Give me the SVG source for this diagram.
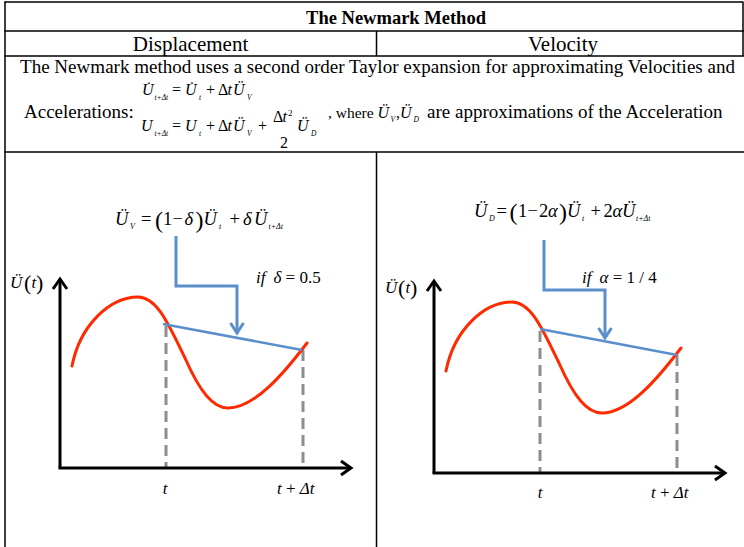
<svg xmlns="http://www.w3.org/2000/svg" width="744" height="547" viewBox="0 0 744 547">
<style>
  .tbl { stroke:#000; stroke-width:1.5; fill:none; }
  .txt { font-family:"Liberation Serif","Times New Roman",serif; fill:#000; }
  .it { font-style:italic; }
  .up { font-style:normal; }
  .sub { font-size:7.5px; }
  .par { font-style:normal; font-size:24px; }
  .axis { stroke:#000; stroke-width:3; fill:none; }
  .curve { stroke:#FF2A00; stroke-width:3; fill:none; stroke-linecap:round; }
  .dash { stroke:#8E8E8E; stroke-width:3; fill:none; stroke-dasharray:11 6; }
  .blue { stroke:#5B8FCB; stroke-width:3; fill:none; }
  .bline { stroke:#5B8FCB; stroke-width:2.5; fill:none; }
</style>
<defs>
  <marker id="axArrow" markerUnits="userSpaceOnUse" viewBox="-13 -10 16 20" markerWidth="16" markerHeight="20" refX="0" refY="0" orient="auto">
    <path d="M-10,-7 L0,0 L-10,7" stroke="#000" stroke-width="3" fill="none"/>
  </marker>
  <marker id="blArrow" markerUnits="userSpaceOnUse" viewBox="-13 -10 16 20" markerWidth="16" markerHeight="20" refX="0" refY="0" orient="auto">
    <path d="M-10,-6.5 L0,0 L-10,6.5" stroke="#5B8FCB" stroke-width="3" fill="none"/>
  </marker>
</defs>
<rect width="744" height="547" fill="#fff"/>

<g id="table">
  <line class="tbl" x1="4.5" y1="2" x2="743" y2="2"/>
  <line class="tbl" x1="5" y1="1.5" x2="5" y2="547"/>
  <line class="tbl" x1="743" y1="1.5" x2="743" y2="56"/>
  <line class="tbl" x1="4.5" y1="31" x2="744" y2="31"/>
  <line class="tbl" x1="4.5" y1="56" x2="744" y2="56"/>
  <line class="tbl" x1="4.5" y1="152" x2="744" y2="152"/>
  <line class="tbl" x1="376.5" y1="31" x2="376.5" y2="56"/>
  <line class="tbl" x1="376.5" y1="152" x2="376.5" y2="547"/>
</g>

<g id="header">
  <text class="txt" x="396" y="24" font-size="18.5" font-weight="bold" text-anchor="middle">The Newmark Method</text>
  <text class="txt" x="190.5" y="51" font-size="21" text-anchor="middle">Displacement</text>
  <text class="txt" x="563" y="51" font-size="21" text-anchor="middle">Velocity</text>
</g>

<g id="intro">
  <text class="txt" x="20" y="73" font-size="19" textLength="715" lengthAdjust="spacingAndGlyphs">The Newmark method uses a second order Taylor expansion for approximating Velocities and</text>
  <text class="txt" x="24" y="118" font-size="19">Accelerations:</text>
  <text class="txt it" font-size="16" y="95"><tspan x="142">U&#x307;</tspan><tspan class="sub" x="154.5" y="100">t+Δt</tspan><tspan class="up" x="172" y="95">=</tspan><tspan x="185">U&#x307;</tspan><tspan class="sub" x="199" y="100">t</tspan><tspan class="up" x="206" y="95">+</tspan><tspan class="up" x="218">Δ</tspan><tspan x="227.5">t</tspan><tspan x="233">Ü</tspan><tspan class="sub" x="247" y="100">V</tspan></text>
  <text class="txt it" font-size="16" y="131"><tspan x="141">U</tspan><tspan class="sub" x="154.5" y="136">t+Δt</tspan><tspan class="up" x="172" y="131">=</tspan><tspan x="185">U</tspan><tspan class="sub" x="199" y="136">t</tspan><tspan class="up" x="206" y="131">+</tspan><tspan class="up" x="218">Δ</tspan><tspan x="227.5">t</tspan><tspan x="233">Ü</tspan><tspan class="sub" x="247" y="136">V</tspan><tspan class="up" x="258" y="131">+</tspan></text>
  <text class="txt it" font-size="16" y="122"><tspan class="up" x="273">Δ</tspan><tspan x="282.5">t</tspan><tspan class="up" x="288" y="116" font-size="9">2</tspan></text>
  <text class="txt" x="280" y="148" font-size="16">2</text>
  <text class="txt it" font-size="16" y="131"><tspan x="297">Ü</tspan><tspan class="sub" x="311" y="136">D</tspan></text>
  <text class="txt" x="328" y="118" font-size="15.5">, where</text>
  <text class="txt it" font-size="16" y="118"><tspan x="377.5">Ü</tspan><tspan class="sub" x="390.5" y="122">V</tspan><tspan class="up" x="396" y="118">,</tspan><tspan x="400">Ü</tspan><tspan class="sub" x="413.5" y="122">D</tspan></text>
  <text class="txt" x="427" y="118" font-size="19">are approximations of the Acceleration</text>
</g>

<g id="graph-left">
  <path class="dash" d="M166,326 V468"/>
  <path class="dash" d="M303,350 V468"/>
  <path class="axis" d="M60,468 V279" marker-end="url(#axArrow)"/>
  <path class="axis" d="M58.5,468 H351" marker-end="url(#axArrow)"/>
  <path class="curve" d="M72,366 C80,325 110,297 138,297 C158,297 170,328 185,358 C200,392 213,408 228,408 C255,408 285,372 307,343"/>
  <path class="bline" d="M163,324 L302,350"/>
  <path class="blue" d="M176,236 V286 H237 V333" marker-end="url(#blArrow)"/>
  <text class="txt it" font-size="18.5" y="225"><tspan x="115">Ü</tspan><tspan x="130" y="229" font-size="8">V</tspan><tspan class="up" x="141" y="225">=</tspan><tspan class="par" x="155" y="228">(</tspan><tspan class="up" x="163" y="225">1</tspan><tspan class="up" x="172.5">−</tspan><tspan x="184.5">δ</tspan><tspan class="par" x="195.5" y="228">)</tspan><tspan x="203.5" y="225">Ü</tspan><tspan x="219" y="229" font-size="8">t</tspan><tspan class="up" x="229.5" y="225">+</tspan><tspan x="243">δ</tspan><tspan x="254">Ü</tspan><tspan x="268.5" y="229" font-size="8">t+Δt</tspan></text>
  <text class="txt it" x="256" y="283" font-size="17">if<tspan dx="8">δ</tspan><tspan class="up"> = 0.5</tspan></text>
  <text class="txt it" font-size="17" y="288"><tspan x="10">Ü</tspan><tspan class="up" x="24" y="290" font-size="22">(</tspan><tspan x="31.5" y="288">t</tspan><tspan class="up" x="36" y="290" font-size="22">)</tspan></text>
  <text class="txt it" x="165" y="494" font-size="17" text-anchor="middle">t</text>
  <text class="txt it" x="277" y="494" font-size="17">t <tspan class="up">+</tspan> Δt</text>
</g>

<g id="graph-right">
  <path class="dash" d="M540,331 V473"/>
  <path class="dash" d="M677,355 V473"/>
  <path class="axis" d="M434,473 V281" marker-end="url(#axArrow)"/>
  <path class="axis" d="M432.5,473 H725" marker-end="url(#axArrow)"/>
  <path class="curve" d="M446,371 C454,330 484,302 512,302 C532,302 544,333 559,363 C574,397 587,413 602,413 C629,413 659,377 681,348"/>
  <path class="bline" d="M540,329 L677,355"/>
  <path class="blue" d="M544,240 V290 H605 V338" marker-end="url(#blArrow)"/>
  <text class="txt it" font-size="18.5" y="217"><tspan x="474">Ü</tspan><tspan x="489" y="221" font-size="8">D</tspan><tspan class="up" x="496.5" y="217">=</tspan><tspan class="par" x="509.5" y="220">(</tspan><tspan class="up" x="518" y="217">1</tspan><tspan class="up" x="527.5">−</tspan><tspan class="up" x="539">2</tspan><tspan x="548">α</tspan><tspan class="par" x="559" y="220">)</tspan><tspan x="567" y="217">Ü</tspan><tspan x="582" y="221" font-size="8">t</tspan><tspan class="up" x="590.5" y="217">+</tspan><tspan class="up" x="603.5">2</tspan><tspan x="612.5">α</tspan><tspan x="622">Ü</tspan><tspan x="636" y="221" font-size="8">t+Δt</tspan></text>
  <text class="txt it" x="582" y="283" font-size="17">if<tspan dx="8">α</tspan><tspan class="up"> = 1 / 4</tspan></text>
  <text class="txt it" font-size="17" y="293"><tspan x="385">Ü</tspan><tspan class="up" x="398" y="295" font-size="22">(</tspan><tspan x="405.5" y="293">t</tspan><tspan class="up" x="410" y="295" font-size="22">)</tspan></text>
  <text class="txt it" x="540" y="498" font-size="17" text-anchor="middle">t</text>
  <text class="txt it" x="651" y="498" font-size="17">t <tspan class="up">+</tspan> Δt</text>
</g>
</svg>
